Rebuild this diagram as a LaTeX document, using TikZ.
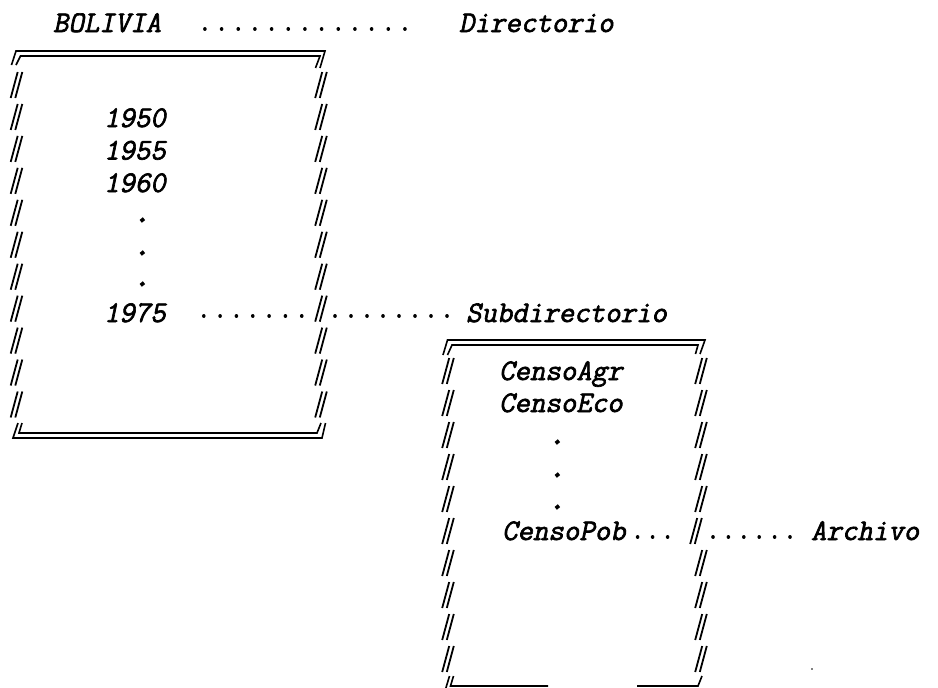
\documentclass[tikz,border=0pt]{standalone}
\usepackage{fontspec}
\newfontfamily\twfont[FakeSlant=0.21,FakeBold=2.2]{Latin Modern Mono}
\newfontfamily\twdotfont[FakeSlant=0.21,FakeBold=5]{Latin Modern Mono}
\newcommand\mydslash[2]{\draw[slashpen] ({#1+1.2},{#2-13}) -- ({#1-5.8},{#2+13}) ({#1+5.8},{#2-13}) -- ({#1-1.2},{#2+13});}
\begin{document}
\begin{tikzpicture}[x=1pt,y=-1pt,
 txt/.style={font={\twfont\fontsize{30pt}{34pt}\selectfont}, inner sep=0pt, outer sep=0pt, anchor=base west},
 pnt/.style={font={\twdotfont\fontsize{30pt}{34pt}\selectfont}, inner sep=0pt, outer sep=0pt, anchor=center},
 framepen/.style={line width=1.6pt, line join=miter},
 slashpen/.style={line width=1.8pt},
 leader/.style={line width=3.6pt, line cap=round, dash pattern=on 0.01pt off #1}
]
\useasboundingbox (0,0) rectangle (938,688);
\clip (0,0) rectangle (938,688);

% ---- texts
\node[txt] (bol) at (53,32) {BOLIVIA};
\node[txt] (dir) at (459,32) {Directorio};
\node[txt] (y50) at (104,127) {1950};
\node[txt] (y55) at (104,159.5) {1955};
\node[txt] (y60) at (104,192) {1960};
\node[pnt] (p1) at (142,220) {.};
\node[pnt] (p2) at (142,253) {.};
\node[pnt] (p3) at (142,284) {.};
\node[txt] (y75) at (104,322) {1975};
\node[txt] (sub) at (466,322) {Subdirectorio};
\node[txt] (cagr) at (499,380) {CensoAgr};
\node[txt] (ceco) at (499,412) {CensoEco};
\node[pnt] (q1) at (557,442) {.};
\node[pnt] (q2) at (557,475) {.};
\node[pnt] (q3) at (557,507) {.};
\node[txt] (cpob) at (502,540) {CensoPob};
\node[txt] (arch) at (811,540) {Archivo};

% ---- crossing points on the frames
\coordinate (s1) at (321,316);
\coordinate (s2) at (696,537);

% ---- frame 1
\foreach \k in {0,...,10}{
  \pgfmathsetmacro\yy{85+31.95*\k}
  \mydslash{16.5}{\yy}
  \mydslash{321}{\yy}
}
\draw[framepen] (11.5,65) -- (16,51) -- (325,51) -- (320,68);
\draw[framepen] (16,65) -- (20.5,56) -- (320,56) -- (315.5,68);
\draw[framepen] (18,423) -- (13,438) -- (322,438) -- (325.5,423);
\draw[framepen] (22,423) -- (19,433) -- (317,433) -- (321,423);

% ---- frame 2
\foreach \k in {0,...,9}{
  \pgfmathsetmacro\yy{371+32*\k}
  \mydslash{448}{\yy}
  \ifnum\k=5 \mydslash{696}{\yy}\else\mydslash{701}{\yy}\fi
}
\draw[framepen] (443,355) -- (447.5,340) -- (705,340) -- (700,354);
\draw[framepen] (447.5,355) -- (452,345) -- (698,345) -- (695.5,354);
\draw[framepen] (453.5,676) -- (450.5,686) -- (548,686);
\draw[framepen] (637,686) -- (698,686) -- (702,676);
\draw[framepen] (449.5,676) -- (445,691) -- (703,691);

% ---- dot leaders
\draw[leader=16.66pt] ([xshift=43.75pt,yshift=3pt]bol.base east) -- ([xshift=-51.7pt,yshift=3pt]dir.base west);
\draw[leader=16.32pt] ([xshift=38pt,yshift=6pt]y75.base east) -- ([xshift=-17.7pt]s1);
\draw[leader=15.99pt] ([xshift=14pt]s1) -- ([xshift=-18.7pt,yshift=6pt]sub.base west);
\draw[leader=14.99pt] ([xshift=12pt,yshift=3pt]cpob.base east) -- ([xshift=-25.7pt]s2);
\draw[leader=15.39pt] ([xshift=17pt]s2) -- ([xshift=-20.7pt,yshift=3pt]arch.base west);

% ---- stray speck
\fill (812,669) circle (0.9);
\end{tikzpicture}
\end{document}
